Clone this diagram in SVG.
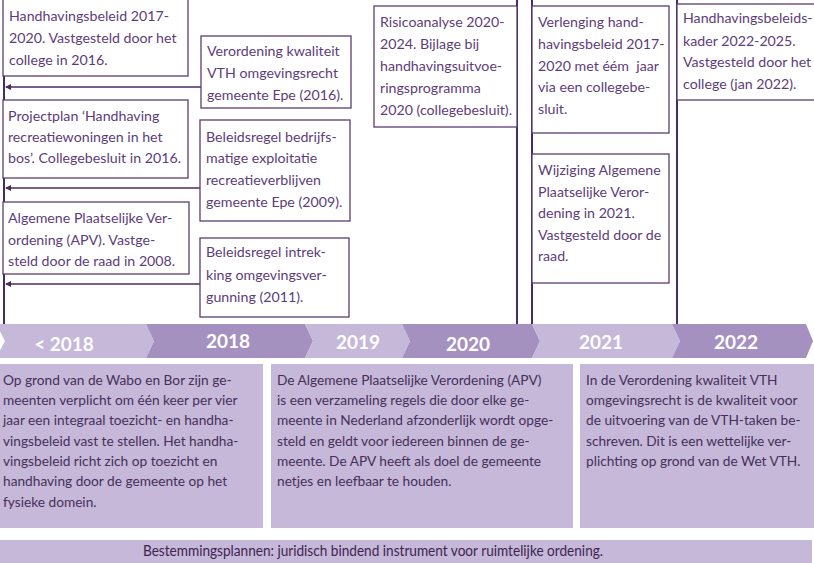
<svg xmlns="http://www.w3.org/2000/svg" width="814" height="563" viewBox="0 0 814 563">
<defs>
<marker id="ah" markerWidth="6" markerHeight="6" refX="5" refY="3" orient="auto" markerUnits="userSpaceOnUse">
<path d="M0,0 L6,3 L0,6 Z" fill="#4b2a63"/>
</marker>
<style>
.box{fill:#fff;stroke:#5a3d72;stroke-width:1.3}
.t{font-family:Lato,"Open Sans",sans-serif;font-size:14.2px;fill:#5d3d79}
.b{font-family:Lato,"Open Sans",sans-serif;font-size:13.7px;fill:#46305a}
.vl{stroke:#4b2a63;stroke-width:2;fill:none}
.ar{stroke:#4b2a63;stroke-width:1.6;fill:none;marker-end:url(#ah)}
.cl{fill:#c5b8d8}
.cd{fill:#a591bf}
.yl{font-family:Lato,"Open Sans",sans-serif;font-size:19px;font-weight:bold;fill:#fff;text-anchor:middle}
.fill{fill:#c5b8d8}
</style>
</defs>
<rect width="814" height="563" fill="#fff"/>

<g id="connectors">
<line class="vl" x1="4" y1="0" x2="4" y2="324"/>
<line class="vl" x1="517" y1="0" x2="517" y2="324"/>
<line class="vl" x1="532" y1="0" x2="532" y2="324"/>
<line class="vl" x1="677" y1="0" x2="677" y2="324"/>
<line class="ar" x1="201" y1="87" x2="6" y2="87"/>
<line class="ar" x1="201" y1="188" x2="6" y2="188"/>
<line class="ar" x1="201" y1="284" x2="6" y2="284"/>
</g>

<g id="n-handhavingsbeleid">
<rect class="box" x="3" y="-2" width="185" height="78"/>
<text class="t"><tspan x="9" y="21">Handhavingsbeleid 2017-</tspan><tspan x="9" y="43">2020. Vastgesteld door het</tspan><tspan x="9" y="65">college in 2016.</tspan></text>
</g>
<g id="n-projectplan">
<rect class="box" x="3" y="100" width="185" height="78"/>
<text class="t"><tspan x="8" y="121">Projectplan ‘Handhaving</tspan><tspan x="8" y="142">recreatiewoningen in het</tspan><tspan x="8" y="163">bos’. Collegebesluit in 2016.</tspan></text>
</g>
<g id="n-apv">
<rect class="box" x="3" y="202" width="186" height="72"/>
<text class="t"><tspan x="8" y="223">Algemene Plaatselijke Ver-</tspan><tspan x="8" y="245">ordening (APV). Vastge-</tspan><tspan x="8" y="266">steld door de raad in 2008.</tspan></text>
</g>
<g id="n-verordening">
<rect class="box" x="201" y="36" width="150" height="72"/>
<text class="t"><tspan x="207" y="56">Verordening kwaliteit</tspan><tspan x="207" y="78">VTH omgevingsrecht</tspan><tspan x="207" y="100">gemeente Epe (2016).</tspan></text>
</g>
<g id="n-bedrijfsmatig">
<rect class="box" x="200" y="120" width="150" height="101"/>
<text class="t"><tspan x="206" y="142">Beleidsregel bedrijfs-</tspan><tspan x="206" y="163">matige exploitatie</tspan><tspan x="206" y="185">recreatieverblijven</tspan><tspan x="206" y="207">gemeente Epe (2009).</tspan></text>
</g>
<g id="n-intrekking">
<rect class="box" x="200" y="238" width="149" height="79"/>
<text class="t"><tspan x="206" y="257">Beleidsregel intrek-</tspan><tspan x="206" y="280">king omgevingsver-</tspan><tspan x="206" y="302">gunning (2011).</tspan></text>
</g>
<g id="n-risicoanalyse">
<rect class="box" x="374" y="6" width="143" height="121"/>
<text class="t"><tspan x="380" y="27">Risicoanalyse 2020-</tspan><tspan x="380" y="49">2024. Bijlage bij</tspan><tspan x="380" y="71">handhavingsuitvoe-</tspan><tspan x="380" y="93">ringsprogramma</tspan><tspan x="380" y="115">2020 (collegebesluit).</tspan></text>
</g>
<g id="n-verlenging">
<rect class="box" x="532" y="6" width="137" height="127"/>
<text class="t" xml:space="preserve"><tspan x="538" y="27">Verlenging hand-</tspan><tspan x="538" y="49">havingsbeleid 2017-</tspan><tspan x="538" y="71">2020 met éém  jaar</tspan><tspan x="538" y="92">via een collegebe-</tspan><tspan x="538" y="114">sluit.</tspan></text>
</g>
<g id="n-wijziging">
<rect class="box" x="532" y="154" width="137" height="129"/>
<text class="t"><tspan x="538" y="175">Wijziging Algemene</tspan><tspan x="538" y="197">Plaatselijke Veror-</tspan><tspan x="538" y="218">dening in 2021.</tspan><tspan x="538" y="240">Vastgesteld door de</tspan><tspan x="538" y="261">raad.</tspan></text>
</g>
<g id="n-kader">
<rect class="box" x="677" y="4" width="140" height="96"/>
<text class="t"><tspan x="683" y="23">Handhavingsbeleids-</tspan><tspan x="683" y="46">kader 2022-2025.</tspan><tspan x="683" y="67">Vastgesteld door het</tspan><tspan x="683" y="89">college (jan 2022).</tspan></text>
</g>

<g id="timeline">
<polygon class="cl" points="-4,324 146,324 154,341 146,358 -4,358 5,341"/>
<polygon class="cd" points="146,324 305,324 313,341 305,358 146,358 154,341"/>
<polygon class="cl" points="305,324 402,324 410,341 402,358 305,358 313,341"/>
<polygon class="cd" points="402,324 532,324 540,341 532,358 402,358 410,341"/>
<polygon class="cl" points="532,324 672,324 680,341 672,358 532,358 540,341"/>
<polygon class="cd" points="672,324 806,324 813,341 806,358 672,358 680,341"/>
<text class="yl" x="64" y="351">&lt; 2018</text>
<text class="yl" x="228" y="348">2018</text>
<text class="yl" x="358" y="349">2019</text>
<text class="yl" x="468" y="351">2020</text>
<text class="yl" x="601" y="349">2021</text>
<text class="yl" x="736" y="349">2022</text>
</g>

<g id="n-wabo">
<rect class="fill" x="0" y="364" width="263" height="164"/>
<text class="b"><tspan x="3" y="385">Op grond van de Wabo en Bor zijn ge-</tspan><tspan x="3" y="405">meenten verplicht om één keer per vier</tspan><tspan x="3" y="425">jaar een integraal toezicht- en handha-</tspan><tspan x="3" y="446">vingsbeleid vast te stellen. Het handha-</tspan><tspan x="3" y="466">vingsbeleid richt zich op toezicht en</tspan><tspan x="3" y="486">handhaving door de gemeente op het</tspan><tspan x="3" y="507">fysieke domein.</tspan></text>
</g>
<g id="n-apv-uitleg">
<rect class="fill" x="271" y="364" width="302" height="164"/>
<text class="b"><tspan x="277" y="385">De Algemene Plaatselijke Verordening (APV)</tspan><tspan x="277" y="405">is een verzameling regels die door elke ge-</tspan><tspan x="277" y="425">meente in Nederland afzonderlijk wordt opge-</tspan><tspan x="277" y="446">steld en geldt voor iedereen binnen de ge-</tspan><tspan x="277" y="466">meente. De APV heeft als doel de gemeente</tspan><tspan x="277" y="486">netjes en leefbaar te houden.</tspan></text>
</g>
<g id="n-vth-uitleg">
<rect class="fill" x="580" y="364" width="234" height="164"/>
<text class="b"><tspan x="586" y="385">In de Verordening kwaliteit VTH</tspan><tspan x="586" y="405">omgevingsrecht is de kwaliteit voor</tspan><tspan x="586" y="425">de uitvoering van de VTH-taken be-</tspan><tspan x="586" y="446">schreven. Dit is een wettelijke ver-</tspan><tspan x="586" y="466">plichting op grond van de Wet VTH.</tspan></text>
</g>
<g id="n-bestemmingsplannen">
<rect class="fill" x="0" y="540" width="812" height="23"/>
<text x="373" y="556" text-anchor="middle" textLength="460" lengthAdjust="spacingAndGlyphs" style="font-family:Lato,sans-serif;font-size:14.5px;fill:#3d2550">Bestemmingsplannen: juridisch bindend instrument voor ruimtelijke ordening.</text>
</g>
</svg>
